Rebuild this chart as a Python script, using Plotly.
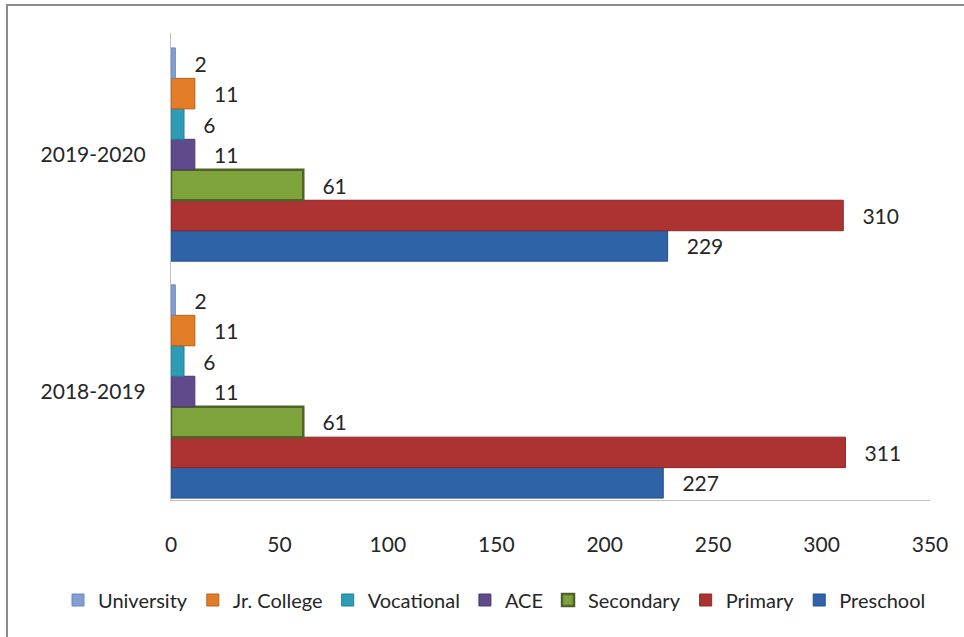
import plotly.graph_objects as go

years = ["2018-2019", "2019-2020"]
series_names = ["Preschool", "Primary", "Secondary", "ACE", "Vocational", "Jr. College", "University"]
preschool = [227, 229]
primary = [311, 310]
secondary = [61, 61]
ace = [11, 11]
vocational = [6, 6]
jr_college = [11, 11]
university = [2, 2]
x_ticks = [0, 50, 100, 150, 200, 250, 300, 350]

values = [preschool, primary, secondary, ace, vocational, jr_college, university]
fills = ["#2F63A7", "#AC3332", "#7FA33C", "#5F4A8B", "#2E9CB5", "#E27C26", "#819FD2"]
borders = ["#23508C", "#8A2727", "#4F6228", "#4A3A6E", "#23809A", "#B8611A", "#6A88BC"]
bwidth = [1, 1, 2.5, 1, 1, 1, 1]

FONT = "Lato, 'Open Sans', sans-serif"
W, H = 964, 637
L, R, T, B = 171, 34, 33, 137
pw = W - L - R
ph = H - T - B

fig = go.Figure()
for name, vals, fc, bc, bw in zip(series_names, values, fills, borders, bwidth):
    fig.add_trace(go.Bar(
        name=name, y=[0, 1], x=vals, orientation="h",
        marker=dict(color=fc, line=dict(color=bc, width=bw)),
        text=vals, texttemplate="\u00a0\u00a0\u00a0%{x}", textposition="outside",
        textfont=dict(size=21, color="#262626", family=FONT),
        cliponaxis=False,
    ))

fig.update_layout(
    width=W, height=H,
    margin=dict(l=L, r=R, t=T, b=B, autoexpand=False),
    paper_bgcolor="white", plot_bgcolor="white",
    barmode="group", bargap=0.10, bargroupgap=0,
    font=dict(family=FONT, size=21, color="#262626"),
    showlegend=True,
    legend=dict(orientation="h", traceorder="reversed",
                x=(58 - L) / pw, xanchor="left",
                y=(ph - (600 - T)) / ph, yanchor="middle",
                font=dict(size=20, color="#262626"), itemwidth=30,
                tracegroupgap=0),
    xaxis=dict(range=[0, 350], tickvals=x_ticks, showgrid=False, zeroline=False,
               showline=True, linecolor="#BFBFBF", linewidth=1, ticks="",
               ticklabelstandoff=26, tickfont=dict(size=21)),
    yaxis=dict(range=[-0.458, 1.513], tickvals=[0, 1], ticktext=years,
               showgrid=False, zeroline=False, showline=True, linecolor="#BFBFBF",
               linewidth=1, ticks="", ticklabelstandoff=20, tickfont=dict(size=21)),
    shapes=[dict(type="rect", xref="paper", yref="paper",
                 x0=(7 - L) / pw, x1=(975 - L) / pw,
                 y0=(ph - (650 - T)) / ph, y1=(ph - (5 - T)) / ph,
                 line=dict(color="#8C8C8C", width=2), layer="below")],
)

fig.write_html("out.html", config={"displayModeBar": False},
               post_script="document.body.style.margin='0';")
